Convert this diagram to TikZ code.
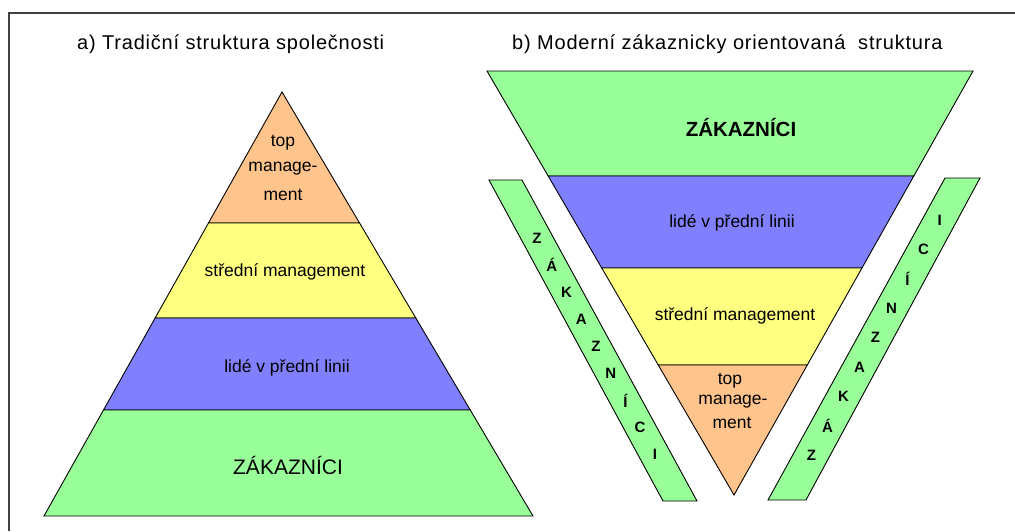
\documentclass[tikz,border=0pt]{standalone}
\usepackage{fontspec}
\setmainfont{Liberation Sans}
\usetikzlibrary{calc}
\definecolor{cgreen}{HTML}{99FF99}
\definecolor{cblue}{HTML}{8080FF}
\definecolor{cyellow}{HTML}{FFFF80}
\definecolor{corange}{HTML}{FFC48C}
\definecolor{cframe}{HTML}{404040}
\tikzset{
  layer/.style={draw=black, line width=0.9pt, line join=miter},
  body/.style={font=\fontsize{17.5}{21}\selectfont, align=center, inner sep=0pt},
  big/.style={font=\fontsize{21}{24}\selectfont, inner sep=0pt},
  bigb/.style={font=\fontsize{20.5}{24}\selectfont\bfseries, inner sep=0pt},
  letter/.style={font=\fontsize{15}{18}\selectfont\bfseries, inner sep=0pt},
  title/.style={font=\fontsize{20}{24}\selectfont\addfontfeature{LetterSpace=4}, inner sep=0pt, anchor=base west},
}
\begin{document}
\begin{tikzpicture}[x=1pt,y=-1pt]
\useasboundingbox (0,0) rectangle (1015,531);
\fill[white] (0,0) rectangle (1015,531);
% frame
\draw[cframe, line width=1.3pt] (1015,13) -- (9,13) -- (9,531);
% titles
\node[title] (ta) at (77,49) {a) Tradiční struktura společnosti};
\node[title] (tb) at (512,49) {b) Moderní zákaznicky orientovaná \ struktura};
% ---------- left pyramid ----------
\coordinate (A) at (282,92);
\coordinate (BL) at (44,516);
\coordinate (BR) at (533,516);
\def\ta{0.30896}\def\tb{0.53302}\def\tc{0.75}
\coordinate (L1) at ($(A)!\ta!(BL)$); \coordinate (R1) at ($(A)!\ta!(BR)$);
\coordinate (L2) at ($(A)!\tb!(BL)$); \coordinate (R2) at ($(A)!\tb!(BR)$);
\coordinate (L3) at ($(A)!\tc!(BL)$); \coordinate (R3) at ($(A)!\tc!(BR)$);
\filldraw[layer, fill=corange] (A) -- (R1) -- (L1) -- cycle;
\filldraw[layer, fill=cyellow] (L1) -- (R1) -- (R2) -- (L2) -- cycle;
\filldraw[layer, fill=cblue] (L2) -- (R2) -- (R3) -- (L3) -- cycle;
\filldraw[layer, fill=cgreen] (L3) -- (R3) -- (BR) -- (BL) -- cycle;
\node[body] (lt1) at (283,143) {top};
\node[body] (lt2) at (283,169) {manage-};
\node[body] (lt3) at (283,195) {ment};
\node[body] (lmid) at (285,272) {střední management};
\node[body] (lfront) at (287,368) {lidé v přední linii};
\node[big] (lcust) at (288,465) {ZÁKAZNÍCI};
% ---------- right inverted pyramid ----------
\coordinate (TL) at (487,71);
\coordinate (TR) at (973,71);
\coordinate (V) at (734,495);
\def\sa{0.24764}\def\sb{0.46462}\def\sc{0.69340}
\coordinate (P1) at ($(TL)!\sa!(V)$); \coordinate (Q1) at ($(TR)!\sa!(V)$);
\coordinate (P2) at ($(TL)!\sb!(V)$); \coordinate (Q2) at ($(TR)!\sb!(V)$);
\coordinate (P3) at ($(TL)!\sc!(V)$); \coordinate (Q3) at ($(TR)!\sc!(V)$);
\filldraw[layer, fill=cgreen] (TL) -- (TR) -- (Q1) -- (P1) -- cycle;
\filldraw[layer, fill=cblue] (P1) -- (Q1) -- (Q2) -- (P2) -- cycle;
\filldraw[layer, fill=cyellow] (P2) -- (Q2) -- (Q3) -- (P3) -- cycle;
\filldraw[layer, fill=corange] (P3) -- (Q3) -- (V) -- cycle;
\node[bigb] (rcust) at (741,128) {ZÁKAZNÍCI};
\node[body] (rfront) at (732,223) {lidé v přední linii};
\node[body] (rmid) at (735,316) {střední management};
\node[body] (rt1) at (730,381) {top};
\node[body] (rt2) at (733,402) {manage-};
\node[body] (rt3) at (732,423) {ment};
% ---------- strips ----------
\filldraw[layer, fill=cgreen] (489,180) -- (522,180) -- (697,501) -- (663,501) -- cycle;
\filldraw[layer, fill=cgreen] (945,178) -- (980,178) -- (806,500) -- (768,500) -- cycle;
\foreach \l [count=\i from 0] in {Z,Á,K,A,Z,N,Í,C,I}{
  \pgfmathsetmacro\yy{238+\i*27.1}
  \pgfmathsetmacro\xx{505.5+(\yy-180)*0.5436}
  \node[letter] (sl\i) at (\xx,\yy) {\l};
}
\foreach \l [count=\i from 0] in {I,C,Í,N,Z,A,K,Á,Z}{
  \pgfmathsetmacro\yy{220+\i*29.4}
  \pgfmathsetmacro\xx{962.5-(\yy-178)*0.545}
  \node[letter] (sr\i) at (\xx,\yy) {\l};
}
\end{tikzpicture}
\end{document}
